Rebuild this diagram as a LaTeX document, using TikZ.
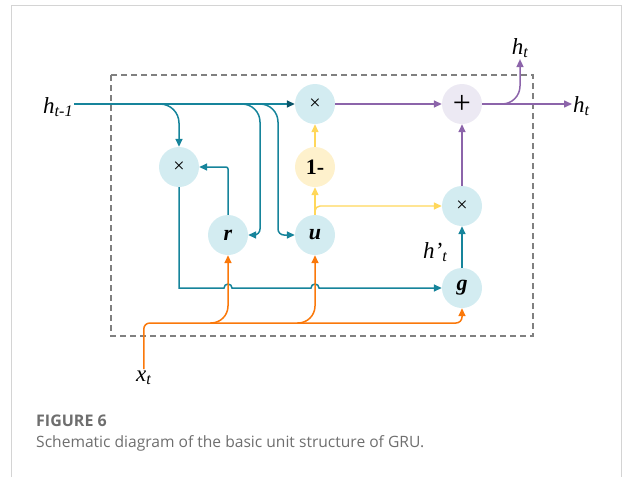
\documentclass[tikz,border=0pt]{standalone}
\usepackage{fontspec}
\setmainfont{Liberation Serif}
\newfontfamily\capfont{Open Sans}
\usetikzlibrary{arrows.meta,calc}

\definecolor{tealc}{RGB}{22,132,155}
\definecolor{tealdark}{RGB}{10,85,105}
\definecolor{orangec}{RGB}{250,120,10}
\definecolor{yellowc}{RGB}{255,215,90}
\definecolor{purplec}{RGB}{140,100,170}
\definecolor{nodeblue}{RGB}{211,236,241}
\definecolor{nodeyellow}{RGB}{254,241,204}
\definecolor{nodelav}{RGB}{236,233,243}
\definecolor{dashgray}{RGB}{128,128,128}
\definecolor{framegray}{RGB}{212,212,212}
\definecolor{captext}{RGB}{110,110,110}

\tikzset{
  gate/.style={circle, minimum size=40pt, inner sep=0pt, fill=nodeblue},
  lbl/.style={inner sep=1pt, font=\fontsize{23}{23}\selectfont\itshape},
  tip/.style={-{Triangle[length=8pt,width=7pt]}},
  tl/.style={draw=tealc, line width=1.5pt, tip},
  ol/.style={draw=orangec, line width=1.5pt, tip},
  yl/.style={draw=yellowc, line width=1.4pt, tip},
  pl/.style={draw=purplec, line width=1.5pt, tip},
  captxt/.style={anchor=base west, inner sep=0pt, text=captext},
  timesign/.style={font=\fontsize{20}{20}\selectfont}
}

\begin{document}
\begin{tikzpicture}[x=1pt,y=-1pt]
\useasboundingbox (0,0) rectangle (624,477);

% outer panel frame
\draw[framegray, line width=1pt] (11,477) -- (11,5.5) -- (621,5.5) -- (621,477);

% cell boundary
\draw[dashgray, line width=1.6pt, dash pattern=on 6pt off 4pt] (111,75) rectangle (533,336);

% operation nodes
\node[gate, timesign] (mx0) at (315,104) {×};
\node[gate, fill=nodelav] (plus) at (462,104) {\fontsize{32}{32}\selectfont +};
\node[gate, fill=nodeyellow] (one) at (315,167) {\fontsize{22}{22}\selectfont\bfseries 1-};
\node[gate, timesign] (mx1) at (179,167) {×};
\node[gate, timesign] (mx2) at (462,206) {×};
\node[gate] (r) at (228,235) {\fontsize{22}{22}\selectfont\bfseries\itshape r};
\node[gate] (u) at (315,235) {\fontsize{22}{22}\selectfont\bfseries\itshape u};
\node[gate] (g) at (462,288) {\fontsize{22}{22}\selectfont\bfseries\itshape g};

% signal labels
\node[lbl, anchor=base west] (htm1) at (42,113) {h\textsubscript{t-1}};
\node[lbl, anchor=base] (ht1) at (520,54) {h\textsubscript{t}};
\node[lbl, anchor=base west] (ht2) at (572,112) {h\textsubscript{t}};
\node[lbl, anchor=base west] (xt) at (135,381) {x\textsubscript{t}};
\node[lbl, anchor=base west] (hp) at (422,258) {h’\textsubscript{t}};

% branch points
\coordinate (b1) at (160,104);
\coordinate (b2) at (242,104);
\coordinate (b3) at (260,104);
\coordinate (k2) at (260,104);
\coordinate (k3) at (278,104);
\coordinate (c2) at (260,235);
\coordinate (c3) at (278,235);
\coordinate (xo) at (300,323);
\coordinate (o1) at (210,323);
\coordinate (o2) at (297,323);
\coordinate (pb) at (498,104);

% previous hidden state
\draw[tl, -{Triangle[length=8pt,width=7pt,color=tealdark]}] (htm1.east |- mx0) -- (mx0.west);
\draw[tl, rounded corners=19] (b1) -| (mx1.north);
\draw[tl] (b2) [rounded corners=18] -- (k2) [rounded corners=6] -- (c2) -- (r.east);
\draw[tl] (b3) [rounded corners=18] -- (k3) [rounded corners=6] -- (c3) -- (u.west);

% reset gate path
\draw[tl, rounded corners=2] (r.north) |- (mx1.east);
\draw[tl] (mx1.south) |- ($(r |- g)+(-4,0)$)
  arc[start angle=180, end angle=360, radius=4]
  -- ($(u |- g)+(-4,0)$)
  arc[start angle=180, end angle=360, radius=4]
  -- (g.west);
\draw[tl] (g.north) -- (mx2.south);

% input
\draw[ol, rounded corners=6] (xt.north) |- (xo) -| (g.south);
\draw[ol, rounded corners=17] (o1) -| (r.south);
\draw[ol, rounded corners=17] (o2) -| (u.south);

% update gate
\draw[yl] (u.north) -- (one.south);
\draw[yl, rounded corners=5] (u.north) |- (mx2.west);
\draw[yl] (one.north) -- (mx0.south);

% output
\draw[pl] (mx0.east) -- (plus.west);
\draw[pl] (mx2.north) -- (plus.south);
\draw[pl] (plus.east) -- (ht2.west |- plus.east);
\draw[pl, rounded corners=18] (pb) -| (ht1.south);

% caption
\node[captxt, font=\capfont\bfseries\fontsize{16}{16}\selectfont] (fig) at (36,426) {FIGURE 6};
\node[captxt, font=\capfont\fontsize{15.6}{15.6}\selectfont] (cap) at (36,447) {Schematic diagram of the basic unit structure of GRU.};
\end{tikzpicture}
\end{document}
